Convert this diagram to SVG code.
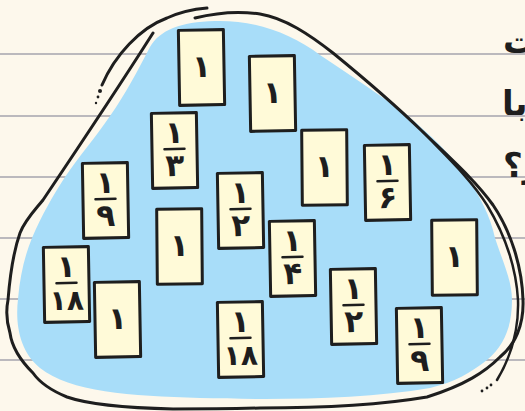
<svg xmlns="http://www.w3.org/2000/svg" width="525" height="411" viewBox="0 0 525 411">
<style>
.rule{stroke:#a4a4ae;stroke-width:1.5;fill:none}
.blob{fill:#a8ddf9;stroke:none}
.ink{fill:none;stroke:#1e1e1e;stroke-width:3;stroke-linecap:round;stroke-linejoin:round}
.ink2{fill:none;stroke:#1e1e1e;stroke-width:2.5;stroke-linecap:round;stroke-linejoin:round}
.dot{fill:#1e1e1e}
.card{fill:#fffad8;stroke:#1e1e1e;stroke-width:3;stroke-linejoin:round}
.bar{stroke:#1e1e1e;stroke-width:2.5;stroke-linecap:round}
.num{font-family:"DejaVu Sans","Noto Sans",sans-serif;font-weight:bold;font-size:31px;fill:#1e1e1e;text-anchor:middle}
.num2{font-family:"DejaVu Sans","Noto Sans",sans-serif;font-weight:bold;font-size:28px;fill:#1e1e1e;text-anchor:middle}
.side{font-family:"DejaVu Sans","Noto Sans",sans-serif;font-weight:bold;font-size:34px;fill:#1e1e1e}
</style>
<defs>
<rect id="cardshape" class="card" x="0" y="0" width="45" height="75"/>
</defs>
<rect width="525" height="411" fill="#fdf8ec"/>
<g id="rules">
<line class="rule" x1="0" y1="54" x2="525" y2="54"/>
<line class="rule" x1="0" y1="116" x2="525" y2="116"/>
<line class="rule" x1="0" y1="177" x2="525" y2="177"/>
<line class="rule" x1="0" y1="238" x2="525" y2="238"/>
<line class="rule" x1="0" y1="299" x2="525" y2="299"/>
<line class="rule" x1="0" y1="360" x2="525" y2="360"/>
</g>
<g id="side-text">
<text class="side" x="503" y="53" direction="rtl" text-anchor="end">ت</text>
<text class="side" x="502" y="115" direction="rtl" text-anchor="end">با</text>
<text class="side" x="503" y="177" direction="rtl" text-anchor="end">ز؟</text>
</g>
<g id="blob">
<path class="blob" d="M150,47 C160,30 180,22 215,21 C255,20 290,33 320,55 C350,75 380,95 407,115 C430,135 452,155 467,177 C480,197 490,215 495,238 C502,260 512,280 512,300 C512,325 505,345 487,360 C470,373 455,382 430,388 C360,400 270,400 200,398 C130,396 70,392 40,368 C20,352 15,325 18,299 C20,275 25,255 32,238 C42,215 52,197 65,177 C80,155 95,138 110,116 C125,95 138,70 150,47 Z"/>
<path class="ink" d="M102,85 C115,55 140,28 167,18 C180,12 195,9 207,8"/>
<circle class="dot" cx="100" cy="91" r="2"/>
<circle class="dot" cx="98" cy="97" r="1.4"/>
<circle class="dot" cx="96" cy="103" r="1.2"/>
<path class="ink" d="M195,18 C215,13 240,11 260,14 C285,18 310,35 333,53 C360,75 390,100 423,132 C450,158 475,180 493,205 C510,230 522,265 523,300 C524,325 515,345 500,357 C485,372 465,385 427,397 C380,405 320,408 260,408 C220,409 190,409 173,409 C130,408 90,405 67,397 C50,390 40,383 33,373 C20,360 12,348 10,333 C6,320 6,310 8,300 C10,275 14,250 20,233 C25,220 35,210 43,200 C80,145 120,85 153,33"/>
<path class="ink2" d="M423,132 C445,155 470,178 487,205 C505,235 516,265 518,300 C519,330 512,355 497,380"/>
<circle class="dot" cx="491" cy="385" r="1.4"/>
<circle class="dot" cx="487" cy="388" r="1.4"/>
<circle class="dot" cx="482" cy="391" r="1.4"/>
</g>
<g id="card-a" transform="translate(179,30) rotate(-1 22 37)"><use href="#cardshape"/><text class="num" x="22.5" y="47">۱</text></g>
<g id="card-b" transform="translate(250,56) rotate(-1 22 37)"><use href="#cardshape"/><text class="num" x="22.5" y="47">۱</text></g>
<g id="card-c" transform="translate(152,113) rotate(-1 22 37)"><use href="#cardshape"/><text class="num" x="22.5" y="30">۱</text><line class="bar" x1="12.5" y1="36" x2="32.5" y2="36"/><text class="num" x="22.5" y="63">۳</text></g>
<g id="card-d" transform="translate(302,130) rotate(-0.5 22 37)"><use href="#cardshape"/><text class="num" x="22.5" y="47">۱</text></g>
<g id="card-e" transform="translate(365,145) rotate(-1 22 37)"><use href="#cardshape"/><text class="num" x="22.5" y="30">۱</text><line class="bar" x1="12.5" y1="36" x2="32.5" y2="36"/><text class="num" x="22.5" y="63">۶</text></g>
<g id="card-f" transform="translate(83,163) rotate(-1 22 37)"><use href="#cardshape"/><text class="num" x="22.5" y="30">۱</text><line class="bar" x1="12.5" y1="36" x2="32.5" y2="36"/><text class="num" x="22.5" y="63">۹</text></g>
<g id="card-g" transform="translate(218,173) rotate(-1 22 37)"><use href="#cardshape"/><text class="num" x="22.5" y="30">۱</text><line class="bar" x1="12.5" y1="36" x2="32.5" y2="36"/><text class="num" x="22.5" y="63">۲</text></g>
<g id="card-h" transform="translate(157,209) rotate(-0.5 22 37)"><use href="#cardshape"/><text class="num" x="22.5" y="47">۱</text></g>
<g id="card-i" transform="translate(270,221) rotate(-1 22 37)"><use href="#cardshape"/><text class="num" x="22.5" y="30">۱</text><line class="bar" x1="12.5" y1="36" x2="32.5" y2="36"/><text class="num" x="22.5" y="63">۴</text></g>
<g id="card-j" transform="translate(432,220) rotate(-0.5 22 37)"><use href="#cardshape"/><text class="num" x="22.5" y="47">۱</text></g>
<g id="card-k" transform="translate(44,247) rotate(-1 22 37)"><use href="#cardshape"/><text class="num" x="22.5" y="30">۱</text><line class="bar" x1="12.5" y1="36" x2="32.5" y2="36"/><text class="num2" x="22.5" y="63">۱۸</text></g>
<g id="card-l" transform="translate(95,282) rotate(-1 22 37)"><use href="#cardshape"/><text class="num" x="22.5" y="47">۱</text></g>
<g id="card-m" transform="translate(331,269) rotate(-1 22 37)"><use href="#cardshape"/><text class="num" x="22.5" y="30">۱</text><line class="bar" x1="12.5" y1="36" x2="32.5" y2="36"/><text class="num" x="22.5" y="63">۲</text></g>
<g id="card-n" transform="translate(218,302) rotate(-1 22 37)"><use href="#cardshape"/><text class="num" x="22.5" y="30">۱</text><line class="bar" x1="12.5" y1="36" x2="32.5" y2="36"/><text class="num2" x="22.5" y="63">۱۸</text></g>
<g id="card-o" transform="translate(397,308) rotate(-1 22 37)"><use href="#cardshape"/><text class="num" x="22.5" y="30">۱</text><line class="bar" x1="12.5" y1="36" x2="32.5" y2="36"/><text class="num" x="22.5" y="63">۹</text></g>
<g id="connectors"/>
</svg>
